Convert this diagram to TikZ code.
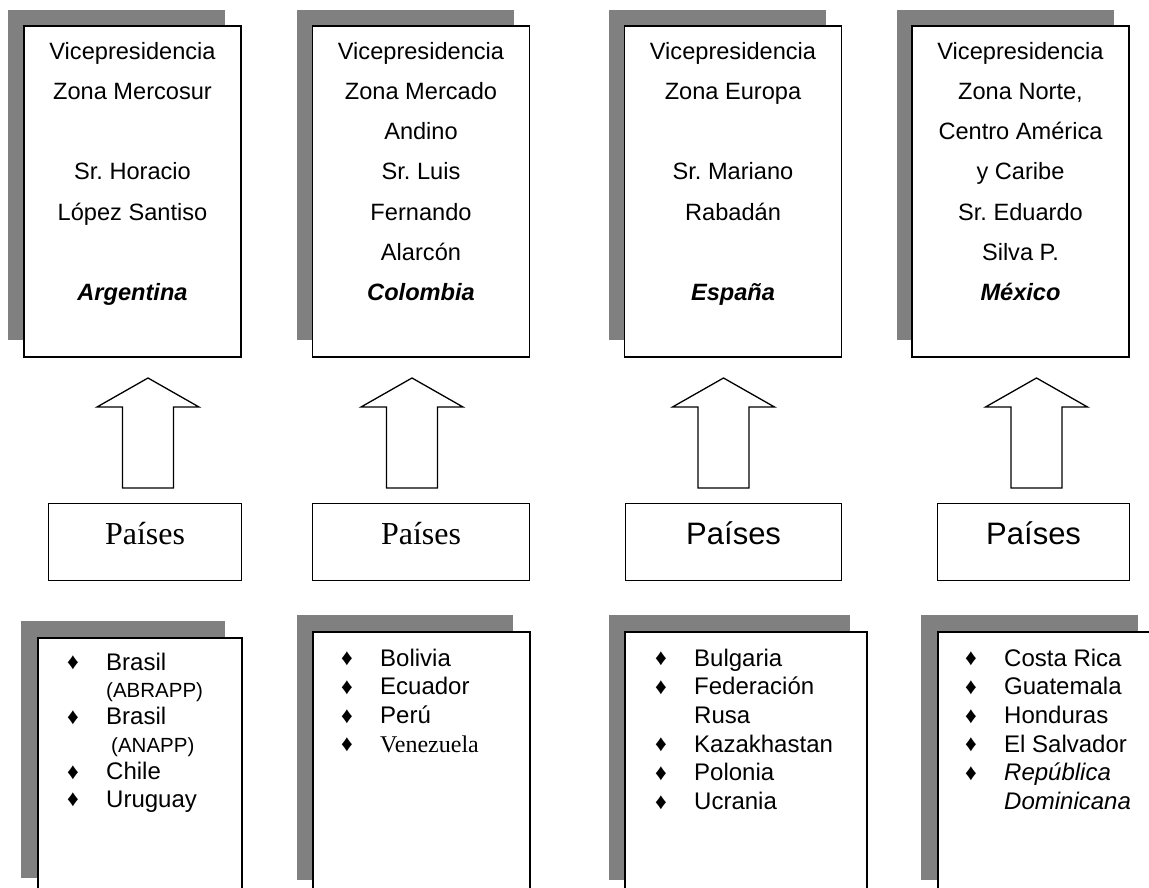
\documentclass[tikz,border=0pt]{standalone}
\usepackage{fontspec}
\setmainfont{Liberation Sans}
\newfontfamily\timesfont{Liberation Serif}
\frenchspacing
\definecolor{shadowgray}{HTML}{808080}
\newcommand\dmd{\makebox[40pt][l]{\hspace{1pt}\raisebox{0.5pt}{\fontsize{23}{23}\selectfont ♦}}}
\newcommand\nodmd{\makebox[40pt][l]{}}
\tikzset{
  shadowfill/.style={fill=shadowgray, draw=none},
  vpbox/.style={draw, line width=1.8pt, fill=white, minimum width=217pt, minimum height=331pt, inner sep=0pt},
  vptext/.style={align=center, inner sep=0pt, anchor=north, font=\fontsize{23.6}{40.2}\selectfont},
  pbox/.style={draw, line width=1.2pt, fill=white, minimum height=77pt, inner sep=0pt, anchor=north west, text height=15pt, text depth=10pt},
  pserif/.style={font=\timesfont\fontsize{32}{32}\selectfont},
  psans/.style={font=\fontsize{31}{31}\selectfont},
  lbox/.style={draw, line width=1.8pt, fill=white, minimum height=290pt, inner sep=0pt, anchor=north west},
  ltext/.style={inner sep=0pt, anchor=north west, align=left},
  blockarrow/.style={draw, line width=1.3pt, fill=white, line join=miter}
}
\newcommand\uparrowshape[1]{\draw[blockarrow] (#1,378) -- ++(51,29) -- ++(-25.5,0) -- ++(0,81) -- ++(-51,0) -- ++(0,-81) -- ++(-25.5,0) -- cycle;}
\begin{document}
\begin{tikzpicture}[x=1pt,y=-1pt]
\useasboundingbox (0,0) rectangle (1149,888);
\clip (0,0) rectangle (1149,888);
\fill[white] (0,0) rectangle (1149,888);

% ---------- top boxes ----------
\fill[shadowfill] (8,10) rectangle (225,340);
\fill[shadowfill] (297,10) rectangle (514,340);
\fill[shadowfill] (609,10) rectangle (826,340);
\fill[shadowfill] (897,10) rectangle (1114,340);

\node[vpbox] (v1) at (132.5,191.5) {};
\node[vpbox] (v2) at (421,191.5) {};
\node[vpbox] (v3) at (733,191.5) {};
\node[vpbox] (v4) at (1020.5,191.5) {};

\node[vptext] (t1) at (132.5,41) {\rule{0pt}{18pt}Vicepresidencia\\Zona Mercosur\\\mbox{}\\Sr. Horacio\\López Santiso\\\mbox{}\\\textbf{\textit{Argentina}}};
\node[vptext] (t2) at (421,41) {\rule{0pt}{18pt}Vicepresidencia\\Zona Mercado\\Andino\\Sr. Luis\\Fernando\\Alarcón\\\textbf{\textit{Colombia}}};
\node[vptext] (t3) at (733,41) {\rule{0pt}{18pt}Vicepresidencia\\Zona Europa\\\mbox{}\\Sr. Mariano\\Rabadán\\\mbox{}\\\textbf{\textit{España}}};
\node[vptext] (t4) at (1020.5,41) {\rule{0pt}{18pt}Vicepresidencia\\Zona Norte,\\Centro América\\y Caribe\\Sr. Eduardo\\Silva P.\\\textbf{\textit{México}}};

% ---------- arrows ----------
\uparrowshape{148}
\uparrowshape{412}
\uparrowshape{723.5}
\uparrowshape{1036.5}

% ---------- Paises boxes ----------
\node[pbox, pserif, minimum width=193pt] (p1) at (48,503) {Países};
\node[pbox, pserif, minimum width=217pt] (p2) at (312,503) {Países};
\node[pbox, psans, minimum width=216pt] (p3) at (625,503) {Países};
\node[pbox, psans, minimum width=192pt] (p4) at (937,503) {Países};

% ---------- bottom boxes ----------
\fill[shadowfill] (21,621) rectangle (225,878);
\fill[shadowfill] (297,615) rectangle (513,880);
\fill[shadowfill] (609,615) rectangle (850,880);
\fill[shadowfill] (921,615) rectangle (1138,880);

\node[lbox, minimum width=204pt] (b1) at (37,637) {};
\node[lbox, minimum width=217pt] (b2) at (312,631) {};
\node[lbox, minimum width=242pt] (b3) at (624,631) {};
\node[lbox, minimum width=217pt] (b4) at (937,631) {};

\node[ltext, font=\fontsize{24}{27.4}\selectfont] (l1) at (66,650.8) {%
\begin{tabular}{@{}l@{}l@{}}
\dmd & Brasil\\
\nodmd & {\fontsize{20.5}{24}\selectfont (ABRAPP)}\\
\dmd & Brasil\\
\nodmd & {\fontsize{20.5}{24}\selectfont\hspace{5pt}(ANAPP)}\\
\dmd & Chile\\
\dmd & Uruguay
\end{tabular}};

\node[ltext, font=\fontsize{24}{28.7}\selectfont] (l2) at (340,645.9) {%
\begin{tabular}{@{}l@{}l@{}}
\dmd & Bolivia\\
\dmd & Ecuador\\
\dmd & Perú\\
\dmd & {\timesfont Venezuela}
\end{tabular}};

\node[ltext, font=\fontsize{24}{28.7}\selectfont] (l3) at (654,645.9) {%
\begin{tabular}{@{}l@{}l@{}}
\dmd & Bulgaria\\
\dmd & Federación\\
\nodmd & Rusa\\
\dmd & Kazakhastan\\
\dmd & Polonia\\
\dmd & Ucrania
\end{tabular}};

\node[ltext, font=\fontsize{24}{28.7}\selectfont] (l4) at (964,645.9) {%
\begin{tabular}{@{}l@{}l@{}}
\dmd & Costa Rica\\
\dmd & Guatemala\\
\dmd & Honduras\\
\dmd & El Salvador\\
\dmd & \textit{República}\\
\nodmd & \textit{Dominicana}
\end{tabular}};
\end{tikzpicture}
\end{document}
